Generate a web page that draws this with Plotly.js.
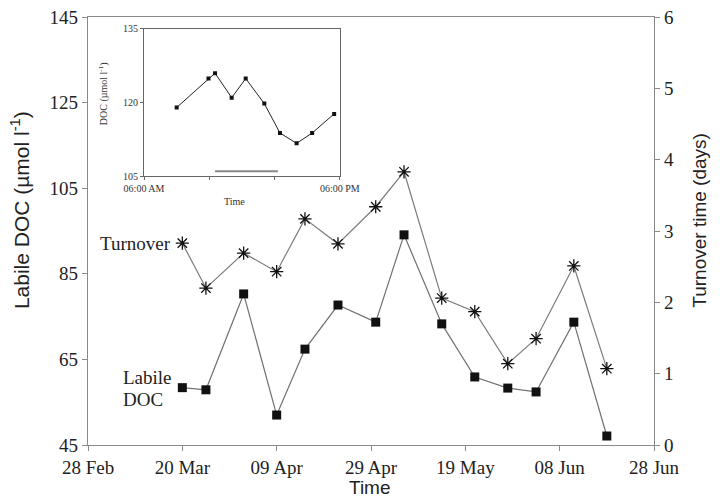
<!DOCTYPE html>
<html>
<head>
<meta charset="utf-8">
<script src="https://cdn.plot.ly/plotly-3.0.1.min.js"></script>
<style>html,body{margin:0;padding:0;background:#fff;}#chart{width:720px;height:502px;}</style>
</head>
<body>
<div id="chart"></div>
<script>
// Sampling dates (1998, non-leap year)
const sampleDates = ['1998-03-20','1998-03-25','1998-04-02','1998-04-09','1998-04-15','1998-04-22','1998-04-30','1998-05-06','1998-05-14','1998-05-21','1998-05-28','1998-06-03','1998-06-11','1998-06-18'];
// Labile DOC (µmol l-1), left axis
const labileDOC = [58.4, 57.9, 80.3, 52.0, 67.4, 77.7, 73.7, 94.1, 73.3, 60.9, 58.3, 57.4, 73.7, 47.1];
// Turnover time (days), right axis
const turnover = [2.83, 2.20, 2.69, 2.43, 3.17, 2.82, 3.34, 3.83, 2.06, 1.87, 1.14, 1.49, 2.51, 1.07];
// Main x-axis ticks
const xTickDates = ['1998-02-28','1998-03-20','1998-04-09','1998-04-29','1998-05-19','1998-06-08','1998-06-28'];
const leftTicks = [45, 65, 85, 105, 125, 145];
const rightTicks = [0, 1, 2, 3, 4, 5, 6];
// Inset: diel DOC cycle
const insetHours = [8.0, 9.95, 10.35, 11.37, 12.23, 13.37, 14.33, 15.35, 16.3, 17.65];
const insetDOC = [119.0, 124.9, 126.0, 121.0, 124.9, 119.8, 113.8, 111.7, 113.8, 117.7];
const insetTickVals = [6, 18];
const insetTickText = ['06:00 AM', '06:00 PM'];
const insetMinorTicks = [10, 14];
const insetYTicks = [105, 120, 135];
const darkPeriod = [10.35, 14.2];

const serif = 'Liberation Serif';
const sans = 'Liberation Sans';
const axisCol = '#8a8a8a';

const traces = [
  {x: sampleDates, y: labileDOC, type: 'scatter', mode: 'lines+markers', xaxis: 'x', yaxis: 'y',
   line: {color: '#707070', width: 1.2}, marker: {symbol: 'square', size: 9, color: '#111'}, name: 'Labile DOC'},
  {x: sampleDates, y: turnover, type: 'scatter', mode: 'lines+markers', xaxis: 'x', yaxis: 'y2',
   line: {color: '#7c7c7c', width: 1.2}, marker: {symbol: 'asterisk-open', size: 11, color: '#111', line: {width: 1.3, color: '#111'}}, name: 'Turnover'},
  {x: insetHours, y: insetDOC, type: 'scatter', mode: 'lines+markers', xaxis: 'x3', yaxis: 'y3',
   line: {color: '#222', width: 1}, marker: {symbol: 'square', size: 4, color: '#111'}, name: 'DOC'}
];

const layout = {
  width: 720, height: 502,
  margin: {l: 88, r: 66, t: 17, b: 57},
  paper_bgcolor: '#fff', plot_bgcolor: '#fff',
  showlegend: false,
  font: {family: serif, color: '#222'},
  xaxis: {
    type: 'date', range: ['1998-02-28', '1998-06-28'],
    tickvals: xTickDates, tickformat: '%d %b',
    ticks: 'outside', ticklen: 5, tickcolor: axisCol,
    showline: true, linecolor: axisCol, linewidth: 1.2, mirror: true,
    showgrid: false, zeroline: false,
    tickfont: {family: serif, size: 19, color: '#222'},
    domain: [0, 1]
  },
  yaxis: {
    range: [45, 145], tickvals: leftTicks,
    ticks: 'outside', ticklen: 5, tickcolor: axisCol,
    showline: true, linecolor: axisCol, linewidth: 1.2,
    showgrid: false, zeroline: false,
    tickfont: {family: serif, size: 19, color: '#222'}
  },
  yaxis2: {
    range: [0, 6], tickvals: rightTicks, overlaying: 'y', side: 'right',
    ticks: 'outside', ticklen: 5, tickcolor: axisCol,
    showline: true, linecolor: axisCol, linewidth: 1.2,
    showgrid: false, zeroline: false,
    tickfont: {family: serif, size: 19, color: '#222'}
  },
  xaxis3: {
    domain: [0.099, 0.445], anchor: 'y3', range: [6, 18],
    tickvals: insetTickVals, ticktext: insetTickText,
    ticks: 'outside', ticklen: 3, tickcolor: '#666',
    minor: {tickvals: insetMinorTicks, ticks: 'outside', ticklen: 3, tickcolor: '#666', showgrid: false},
    showline: true, linecolor: '#666', linewidth: 1, mirror: true,
    showgrid: false, zeroline: false,
    tickfont: {family: serif, size: 10, color: '#333'}
  },
  yaxis3: {
    domain: [0.628, 0.972], anchor: 'x3', range: [105, 135],
    tickvals: insetYTicks,
    ticks: 'outside', ticklen: 3, tickcolor: '#666',
    showline: true, linecolor: '#666', linewidth: 1, mirror: true,
    showgrid: false, zeroline: false,
    tickfont: {family: serif, size: 10, color: '#333'}
  },
  shapes: [
    {type: 'line', xref: 'x3', yref: 'y3', x0: darkPeriod[0], x1: darkPeriod[1], y0: 106, y1: 106,
     line: {color: '#888', width: 2}}
  ],
  annotations: [
    {text: 'Labile DOC (µmol l<sup>-1</sup>)', xref: 'paper', yref: 'paper', x: -0.120, y: 0.549, textangle: -90,
     xanchor: 'center', yanchor: 'middle', showarrow: false, font: {family: sans, size: 21, color: '#222'}},
    {text: 'Turnover time (days)', xref: 'paper', yref: 'paper', x: 1.081, y: 0.526, textangle: -90,
     xanchor: 'center', yanchor: 'middle', showarrow: false, font: {family: sans, size: 19, color: '#222'}},
    {text: 'Time', xref: 'paper', yref: 'paper', x: 0.498, y: -0.100,
     xanchor: 'center', yanchor: 'middle', showarrow: false, font: {family: sans, size: 19, color: '#222'}},
    {text: 'DOC (µmol l<sup>-1</sup>)', xref: 'paper', yref: 'paper', x: 0.0265, y: 0.822, textangle: -90,
     xanchor: 'center', yanchor: 'middle', showarrow: false, font: {family: serif, size: 10, color: '#333'}},
    {text: 'Time', xref: 'paper', yref: 'paper', x: 0.259, y: 0.569,
     xanchor: 'center', yanchor: 'middle', showarrow: false, font: {family: serif, size: 10, color: '#333'}},
    {text: 'Turnover', xref: 'x', yref: 'y2', x: '1998-03-18', y: 2.83, xanchor: 'right', yanchor: 'middle',
     showarrow: false, font: {family: serif, size: 19, color: '#222'}},
    {text: 'Labile', xref: 'x', yref: 'y', x: '1998-03-07', y: 60.8, xanchor: 'left', yanchor: 'middle',
     showarrow: false, font: {family: serif, size: 19, color: '#222'}},
    {text: 'DOC', xref: 'x', yref: 'y', x: '1998-03-07', y: 55.6, xanchor: 'left', yanchor: 'middle',
     showarrow: false, font: {family: serif, size: 19, color: '#222'}}
  ]
};

Plotly.newPlot('chart', traces, layout, {displayModeBar: false, staticPlot: true});
</script>
</body>
</html>
